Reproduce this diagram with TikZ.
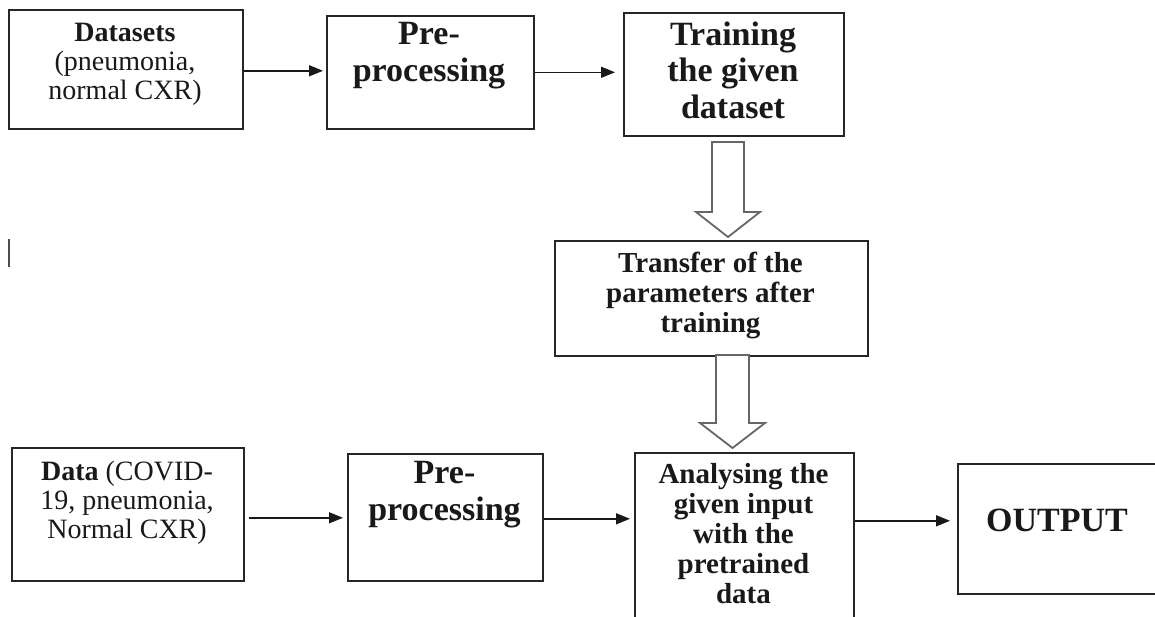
\documentclass[tikz,border=0pt]{standalone}
\usepackage{fontspec}
\setmainfont{Liberation Serif}
\usetikzlibrary{arrows.meta,calc}
\tikzset{
  box/.style={draw=black!85, line width=1.6pt, rectangle, inner sep=0pt, anchor=north west},
  txt/.style={align=center, inner sep=0pt, anchor=north, text=black!90},
  bigb/.style={txt, font=\bfseries\fontsize{34}{36.5}\selectfont},
  midb/.style={txt, font=\bfseries\fontsize{29}{30}\selectfont},
  reg/.style={txt, font=\fontsize{28}{29}\selectfont},
  conn/.style={draw=black!90, line width=1.5pt, -{Triangle[length=14pt,width=11pt]}},
  blockarrow/.style={draw=black!60, line width=1.8pt, fill=white, line join=miter},
}
\begin{document}
\begin{tikzpicture}[x=1pt,y=-1pt]
\useasboundingbox (0,0) rectangle (1155,617);

% top row boxes
\node[box, minimum width=234pt, minimum height=119pt] (ds) at (8,9) {};
\node[box, minimum width=207pt, minimum height=113pt] (pre1) at (326,15) {};
\node[box, minimum width=220pt, minimum height=123pt] (train) at (623,12) {};
\node[box, minimum width=313pt, minimum height=115pt] (transfer) at (554,240) {};

% bottom row boxes
\node[box, minimum width=232pt, minimum height=133pt] (data) at (11,447) {};
\node[box, minimum width=195pt, minimum height=127pt] (pre2) at (347,453) {};
\node[box, minimum width=219pt, minimum height=190pt] (anal) at (634,452) {};
\node[box, minimum width=220pt, minimum height=130pt] (out) at (957,463) {};

% texts
\node[reg] (tds) at (125,22.5) {\textbf{Datasets}\\(pneumonia,\\normal CXR)};
\node[bigb] (tpre1) at (429,22.5) {Pre-\\processing};
\node[bigb] (ttrain) at (733,21.5) {Training\\the given\\dataset};
\node[midb] (ttransfer) at (710.5,252) {Transfer of the\\parameters after\\training};
\node[reg] (tdata) at (127,460.5) {\textbf{Data} (COVID-\\19, pneumonia,\\Normal CXR)};
\node[bigb] (tpre2) at (444.5,461.5) {Pre-\\processing};
\node[midb] (tanal) at (743.5,463) {Analysing the\\given input\\with the\\pretrained\\data};
\node[bigb] (tout) at (1057,508.5) {OUTPUT};

% connectors
\draw[conn, shorten >=3pt] ([yshift=-1.5pt]ds.east) -- ([yshift=-1.5pt]ds.east -| pre1.west);
\draw[conn, shorten >=8pt] (pre1.east) -- (pre1.east -| train.west);
\draw[conn, shorten <=4pt, shorten >=4pt] ([yshift=-3.5pt]data.east) -- ([yshift=-3.5pt]data.east -| pre2.west);
\draw[conn, shorten >=4pt] ([yshift=-1.5pt]pre2.east) -- ([yshift=-1.5pt]pre2.east -| anal.west);
\draw[conn, shorten >=7pt] ([yshift=8pt]out.west -| anal.east) -- ([yshift=8pt]out.west);

% block arrows
\coordinate (b1top) at (728,142);
\coordinate (b1tip) at (728,237);
\draw[blockarrow] ($(b1top)+(-16,0)$) -- ($(b1top)+(16,0)$) -- ($(b1tip)+(16,-25)$) -- ($(b1tip)+(32,-25)$) -- (b1tip) -- ($(b1tip)+(-32,-25)$) -- ($(b1tip)+(-16,-25)$) -- cycle;
\coordinate (b2top) at (732.5,355);
\coordinate (b2tip) at (732.5,448);
\draw[blockarrow] ($(b2top)+(-16.5,0)$) -- ($(b2top)+(16.5,0)$) -- ($(b2tip)+(16.5,-25)$) -- ($(b2tip)+(32.5,-25)$) -- (b2tip) -- ($(b2tip)+(-32.5,-25)$) -- ($(b2tip)+(-16.5,-25)$) -- cycle;

% stray bar
\draw[black!70, line width=2pt] (9,239) -- (9,267);
\end{tikzpicture}
\end{document}
